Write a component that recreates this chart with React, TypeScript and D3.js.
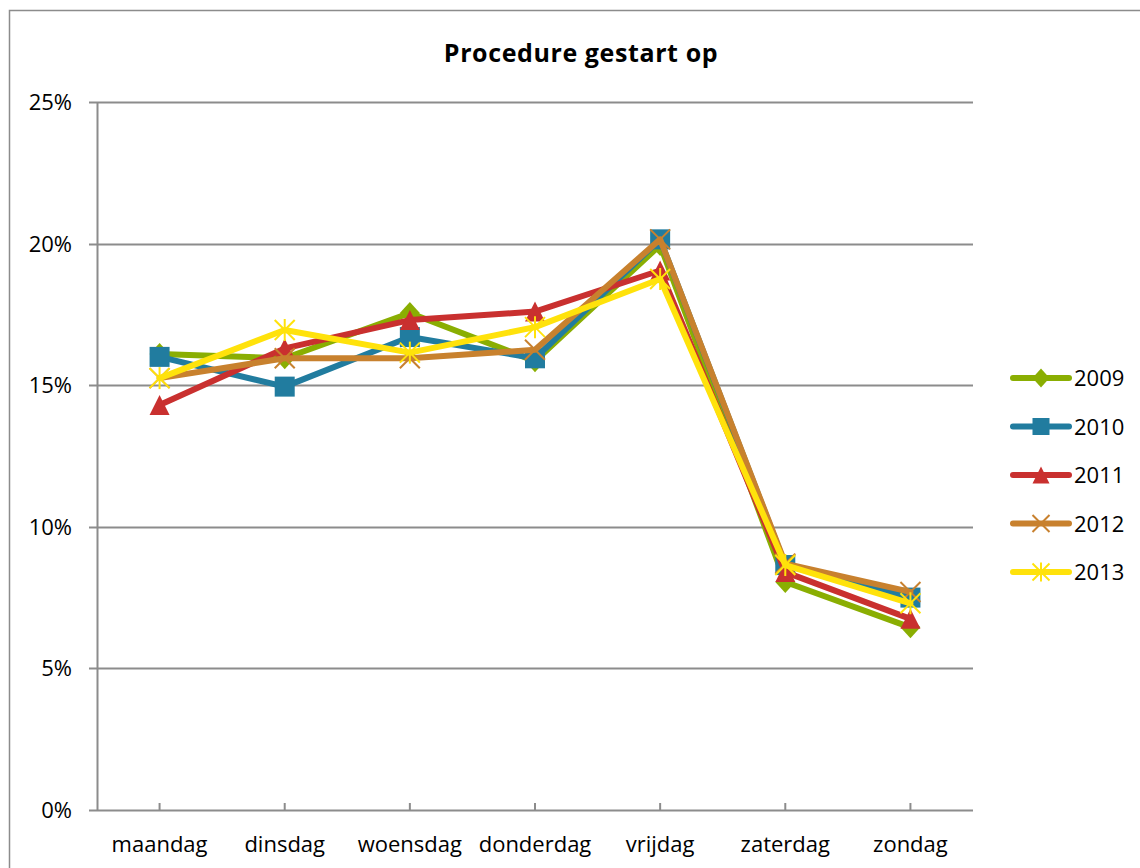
import React from "react";
import * as d3 from "d3";

const days = ["maandag", "dinsdag", "woensdag", "donderdag", "vrijdag", "zaterdag", "zondag"];
const years = ["2009", "2010", "2011", "2012", "2013"];
const s2009 = [16.1, 15.95, 17.55, 15.85, 19.95, 8.05, 6.45];
const s2010 = [16.0, 14.95, 16.7, 15.95, 20.15, 8.65, 7.5];
const s2011 = [14.3, 16.3, 17.3, 17.6, 19.05, 8.4, 6.75];
const s2012 = [15.25, 15.95, 15.95, 16.25, 20.15, 8.7, 7.7];
const s2013 = [15.25, 16.95, 16.15, 17.05, 18.75, 8.65, 7.3];
const yTicks = [0, 5, 10, 15, 20, 25];
const colors = ["#8AAE02", "#217C9F", "#C9302F", "#C8812E", "#FFE20B"];
const markers = ["diamond", "square", "triangle", "x", "star"];
const seriesList = [s2009, s2010, s2011, s2012, s2013];

const W = 1140, H = 868;
const left = 97, right = 973, top = 102, bottom = 810;
const font = "'Open Sans', sans-serif";

function Marker({ type, x, y, color, s }: { type: string; x: number; y: number; color: string; s: number }) {
  if (type === "diamond")
    return <path d={`M${x},${y - s - 1}L${x + s},${y}L${x},${y + s + 1}L${x - s},${y}Z`} fill={color} />;
  if (type === "square")
    return <rect x={x - s} y={y - s} width={2 * s} height={2 * s} fill={color} />;
  if (type === "triangle")
    return <path d={`M${x},${y - s}L${x + s},${y + s}L${x - s},${y + s}Z`} fill={color} />;
  if (type === "x")
    return (
      <g stroke={color} strokeWidth={2}>
        <line x1={x - s} y1={y - s} x2={x + s} y2={y + s} />
        <line x1={x - s} y1={y + s} x2={x + s} y2={y - s} />
      </g>
    );
  return (
    <g stroke={color} strokeWidth={2}>
      <line x1={x - s} y1={y - s} x2={x + s} y2={y + s} />
      <line x1={x - s} y1={y + s} x2={x + s} y2={y - s} />
      <line x1={x} y1={y - s - 1} x2={x} y2={y + s + 1} />
    </g>
  );
}

export default function App() {
  const x = d3.scaleBand<string>().domain(days).range([left, right]);
  const y = d3.scaleLinear().domain([0, 25]).range([bottom, top]);
  const cx = (d: string) => (x(d) as number) + x.bandwidth() / 2;
  const line = d3
    .line<number>()
    .x((_, i) => cx(days[i]))
    .y((v) => y(v));
  const legendX = 1013;
  const legendY0 = 378;
  const legendStep = 48.5;

  return (
    <svg width={W} height={H} style={{ position: "absolute", left: 0, top: 0, background: "#fff" }}>
      <rect x={9.5} y={10.5} width={W + 20} height={H + 20} fill="#fff" stroke="#8c8c8c" strokeWidth={1.5} />
      <text x={581} y={62} textAnchor="middle" fontFamily={font} fontWeight="bold" fontSize={25} letterSpacing={0.6} fill="#000">
        Procedure gestart op
      </text>
      {yTicks.map((t) => (
        <g key={t}>
          <line x1={left - 8} x2={right} y1={Math.round(y(t)) + 0.5} y2={Math.round(y(t)) + 0.5} stroke="#8c8c8c" strokeWidth={2} />
          <text x={72} y={y(t) + 8} textAnchor="end" fontFamily={font} fontSize={22} fill="#000">
            {t}%
          </text>
        </g>
      ))}
      <line x1={left + 0.5} x2={left + 0.5} y1={top} y2={bottom} stroke="#8c8c8c" strokeWidth={2} />
      {days.map((d) => (
        <g key={d}>
          <line x1={cx(d)} x2={cx(d)} y1={bottom} y2={bottom - 7} stroke="#8c8c8c" strokeWidth={2} />
          <text x={cx(d)} y={852} textAnchor="middle" fontFamily={font} fontSize={22} fill="#000">
            {d}
          </text>
        </g>
      ))}
      {seriesList.map((s, si) => (
        <g key={years[si]}>
          <path d={line(s) || ""} fill="none" stroke={colors[si]} strokeWidth={6} strokeLinejoin="round" strokeLinecap="round" />
          {s.map((v, i) => (
            <Marker key={i} type={markers[si]} x={cx(days[i])} y={y(v)} color={colors[si]} s={10} />
          ))}
        </g>
      ))}
      {years.map((yr, i) => {
        const ly = legendY0 + i * legendStep;
        return (
          <g key={yr}>
            <line x1={legendX} x2={legendX + 56} y1={ly} y2={ly} stroke={colors[i]} strokeWidth={6} strokeLinecap="round" />
            <Marker type={markers[i]} x={legendX + 28} y={ly} color={colors[i]} s={8.5} />
            <text x={legendX + 61} y={ly + 8} fontFamily={font} fontSize={22} fill="#000">
              {yr}
            </text>
          </g>
        );
      })}
    </svg>
  );
}
